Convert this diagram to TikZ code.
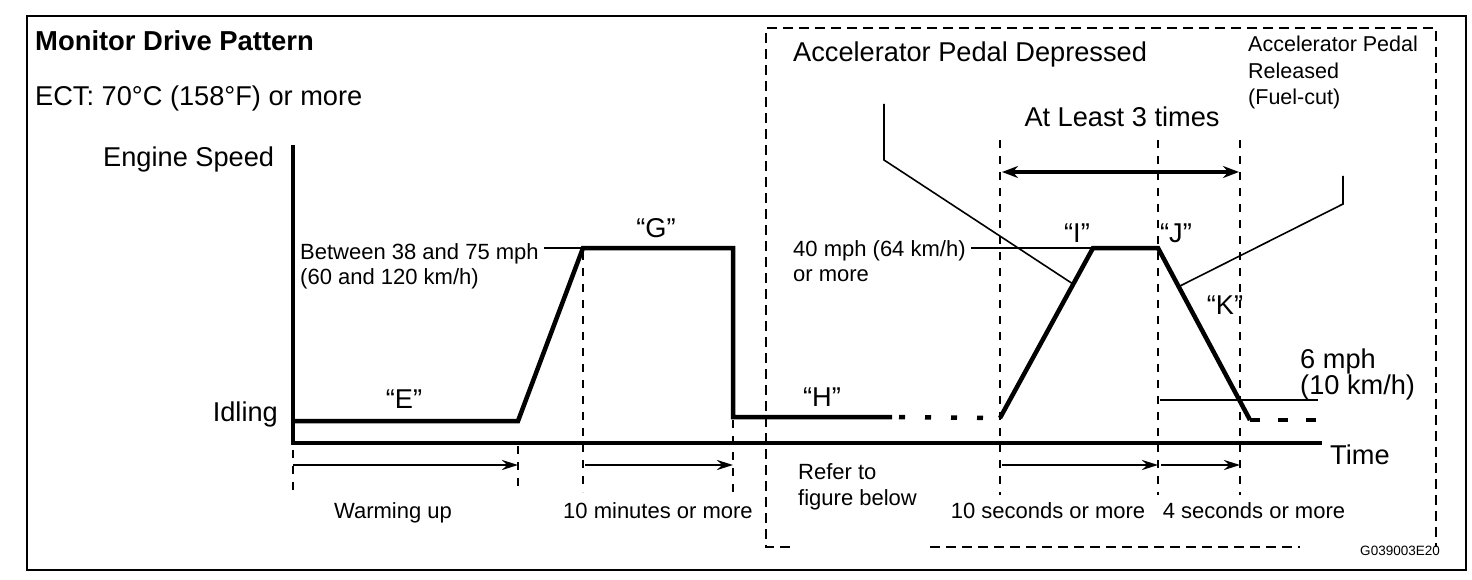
\documentclass[tikz,border=0pt]{standalone}
\usepackage{fontspec}
\setmainfont{Liberation Sans}
\usetikzlibrary{arrows.meta}
\begin{document}
\begin{tikzpicture}[x=1pt,y=-1pt,
 big/.style={font=\fontsize{27.2}{31}\selectfont, inner sep=0pt},
 med/.style={font=\fontsize{22}{26}\selectfont, inner sep=0pt},
 sm/.style={font=\fontsize{21.5}{25}\selectfont, inner sep=0pt},
 tinyt/.style={font=\fontsize{13.5}{16}\selectfont, inner sep=0pt},
 curve/.style={line width=4.5pt, line join=miter},
 axisline/.style={line width=3.5pt},
 leader/.style={line width=1.6pt},
 guide/.style={line width=1.5pt, dash pattern=on 8pt off 8pt},
 boxdash/.style={line width=2.5pt, dash pattern=on 10pt off 6pt},
 dur/.style={line width=2.5pt, -{Stealth[length=16pt,width=10pt]}},
]
\useasboundingbox[fill=white] (0,0) rectangle (1472,580);
% outer frame
\draw[line width=2pt] (27,16) rectangle (1466,570);

% dashed box
\draw[boxdash] (790,547) -- (766,547) -- (766,28) -- (1436,28) -- (1436,547);
\draw[boxdash] (930,547) -- (1300,547);

% axes
\coordinate (o) at (293,443);
\coordinate (ytop) at (293,145);
\coordinate (xend) at (1322,443);
\draw[axisline] (ytop) -- (o) -- (xend);

% curve
\coordinate (e0) at (293,421);
\coordinate (e1) at (518,421);
\coordinate (g0) at (583,248);
\coordinate (g1) at (733,248);
\coordinate (h0) at (733,417);
\coordinate (h1) at (892,417);
\coordinate (i0) at (1000,418);
\coordinate (i1) at (1093,248);
\coordinate (j1) at (1158,248);
\coordinate (k1) at (1250,420);
\coordinate (kend) at (1320,420);
\draw[curve] (e0) -- (e1) -- (g0) -- (g1) -- (h0) -- (h1);
\draw[curve, dash pattern=on 6pt off 20pt] (899,417) -- (i0);
\draw[curve] (i0) -- (i1) -- (j1) -- (k1);
\draw[curve, dash pattern=on 10pt off 18pt] (k1) -- (kend);

% guides
\draw[guide] (293,450) -- (293,492);
\draw[guide] (518,446) -- (518,492);
\draw[guide] (583,252) -- (583,492);
\draw[guide] (733,420) -- (733,492);
\draw[guide] (1000,140) -- (1000,495);
\draw[guide] (1158,140) -- (1158,495);
\draw[guide] (1240,140) -- (1240,495);

% duration arrows
\coordinate (a1s) at (293,465); \coordinate (a1e) at (518,465);
\coordinate (a2s) at (585,465); \coordinate (a2e) at (733,465);
\coordinate (a3s) at (1002,465); \coordinate (a3e) at (1158,465);
\coordinate (a4s) at (1161,465); \coordinate (a4e) at (1240,465);
\draw[dur] (a1s) -- (a1e);
\draw[dur] (a2s) -- (a2e);
\draw[dur] (a3s) -- (a3e);
\draw[dur] (a4s) -- (a4e);

% at least 3 times double arrow
\coordinate (d0) at (1002,172); \coordinate (d1) at (1239,172);
\draw[line width=4pt, {Stealth[length=16pt,width=12pt]}-{Stealth[length=16pt,width=12pt]}] (d0) -- (d1);

% texts
\node[big, anchor=base west, font=\fontsize{27.4}{31}\selectfont\bfseries] (title) at (35,51) {Monitor Drive Pattern};
\node[big, anchor=base west] (ect) at (35,106) {ECT: 70°C (158°F) or more};
\node[big, anchor=base west] (es) at (103,167) {Engine Speed};
\node[big, anchor=base east] (idl) at (278,421) {Idling};
\node[med, anchor=base west] (btw1) at (300,259) {Between 38 and 75 mph};
\node[med, anchor=base west] (btw2) at (300,284) {(60 and 120 km/h)};
\node[big, anchor=base] (lE) at (404,408) {“E”};
\node[big, anchor=base] (lG) at (656,237) {“G”};
\node[big, anchor=base] (lH) at (822,406) {“H”};
\node[big, anchor=base west] (apd) at (793,62) {Accelerator Pedal Depressed};
\node[sm, anchor=base west] (apr1) at (1248,52) {Accelerator Pedal};
\node[sm, anchor=base west] (apr2) at (1248,79) {Released};
\node[sm, anchor=base west] (apr3) at (1248,105) {(Fuel-cut)};
\node[big, anchor=base] (al3) at (1122,127) {At Least 3 times};
\node[med, anchor=base west] (m40a) at (793,256) {40 mph (64 km/h)};
\node[med, anchor=base west] (m40b) at (793,281) {or more};
\node[big, anchor=base] (lI) at (1077,243) {“I”};
\node[big, anchor=base] (lJ) at (1176,243) {“J”};
\node[big, anchor=base] (lK) at (1225,314) {“K”};
\node[big, anchor=base west] (m6a) at (1300,368) {6 mph};
\node[big, anchor=base west] (m6b) at (1300,394) {(10 km/h)};
\node[big, anchor=base west] (time) at (1330,464) {Time};
\node[med, anchor=base] (wu) at (393,518) {Warming up};
\node[med, anchor=base] (tm) at (658,518) {10 minutes or more};
\node[med, anchor=base west] (ref1) at (798,479) {Refer to};
\node[med, anchor=base west] (ref2) at (798,505) {figure below};
\node[med, anchor=base] (ts) at (1048,518) {10 seconds or more};
\node[med, anchor=base] (fs) at (1254,518) {4 seconds or more};
\node[tinyt, anchor=base east] (code) at (1440,555) {G039003E20};

% leaders
\draw[leader] ([xshift=5pt]btw1.east |- g0) -- (g0);
\draw[leader] ([xshift=5pt]m40a.east |- i1) -- (i1);
\draw[leader] (884,104) -- (884,160) -- (1073,284);
\draw[leader] (1343,176) -- (1343,204) -- (1178,287);
\draw[line width=2pt] (1160,400) -- (1318,400);
\end{tikzpicture}
\end{document}
